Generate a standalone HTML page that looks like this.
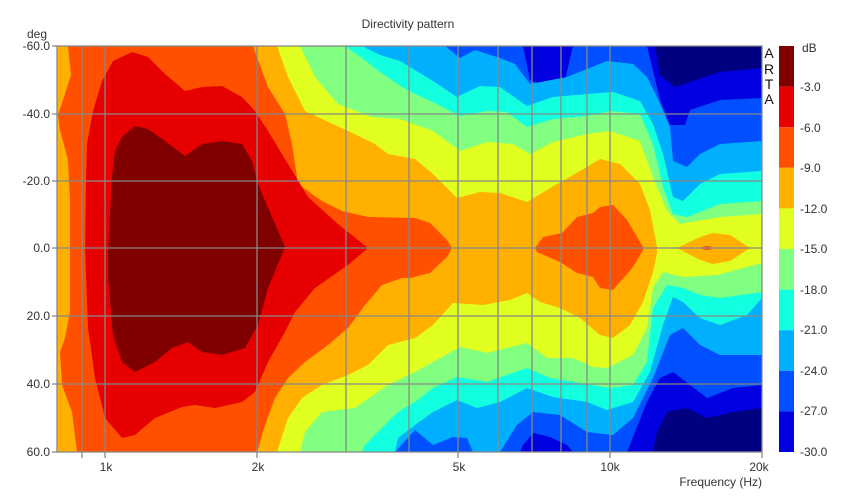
<!DOCTYPE html>
<html><head><meta charset="utf-8"><style>
body{margin:0;background:#fff;}
svg{display:block;font-family:"Liberation Sans",sans-serif;}
</style></head><body>
<svg width="850" height="497" viewBox="0 0 850 497" xmlns="http://www.w3.org/2000/svg">
<rect width="850" height="497" fill="#fff"/>
<defs><clipPath id="c"><rect x="57" y="46" width="705" height="406"/></clipPath></defs>
<g clip-path="url(#c)" stroke-linejoin="round">
<rect x="57" y="46" width="705" height="406" fill="#000080"/>
<path fill="#0000e0" d="M57,46 L655,46 L660,75 L675,87 L690,82 L720,72 L762,68 L762,408 L733,412 L707,418 L687,408 L667,412 L657,432 L653,452 L57,452Z"/>
<path fill="#0050ff" d="M57,46 L523,46 L530,80 L545,86 L565,80 L573,46 L647,46 L660,100 L670,125 L685,125 L690,110 L720,100 L762,98 L762,385 L733,388 L707,398 L690,385 L673,372 L660,378 L647,402 L627,452 L573,452 L567,445 L550,437 L533,433 L523,445 L520,452 L57,452Z"/>
<path fill="#00b0ff" d="M57,46 L445,46 L460,58 L475,50 L497,57 L515,64 L530,84 L567,77 L587,69 L607,61 L633,64 L647,77 L657,97 L670,127 L673,161 L687,167 L700,154 L720,144 L762,141 L762,355 L720,355 L700,345 L683,328 L670,335 L653,378 L633,418 L613,435 L587,432 L560,415 L533,412 L517,425 L500,452 L473,452 L467,438 L453,437 L433,445 L415,430 L395,452 L57,452Z"/>
<path fill="#12ffe0" d="M57,46 L362,46 L380,55 L400,61 L433,81 L457,97 L480,86 L500,87 L527,106 L553,97 L587,94 L613,92 L640,101 L653,124 L663,154 L673,197 L683,201 L700,184 L720,174 L762,171 L762,298 L747,315 L720,325 L700,318 L683,302 L673,297 L663,325 L650,372 L633,402 L607,410 L587,402 L553,397 L527,388 L500,402 L477,408 L457,400 L433,412 L415,425 L398,438 L395,452 L57,452Z"/>
<path fill="#80ff80" d="M57,46 L345,46 L362,58 L380,72 L402,87 L415,94 L433,102 L460,116 L487,111 L507,112 L527,127 L553,119 L587,116 L610,111 L640,114 L653,144 L663,187 L673,214 L687,217 L720,204 L762,201 L762,292 L720,298 L700,295 L683,288 L667,285 L653,308 L647,362 L633,385 L610,388 L580,383 L550,378 L527,368 L487,382 L457,377 L433,388 L415,402 L398,412 L385,425 L365,445 L362,452 L57,452Z"/>
<path fill="#e0ff20" d="M57,46 L300,46 L315,77 L338,104 L372,117 L400,119 L433,131 L460,151 L487,142 L513,144 L530,154 L553,142 L587,134 L610,131 L640,141 L653,177 L667,211 L680,224 L720,217 L762,214 L762,263 L717,275 L683,277 L663,272 L653,288 L647,328 L633,355 L607,368 L593,367 L573,358 L547,358 L527,343 L487,353 L460,347 L433,362 L415,372 L388,385 L355,408 L322,412 L305,432 L300,452 L57,452Z"/>
<path fill="#ffb000" d="M57,46 L277,46 L288,77 L305,111 L348,131 L375,144 L388,154 L415,159 L433,174 L457,198 L480,192 L500,193 L527,202 L557,184 L580,171 L600,159 L620,164 L640,184 L650,210 L657,247 L657,253 L653,272 L643,302 L630,325 L613,338 L600,335 L580,318 L560,308 L540,302 L527,293 L510,300 L483,305 L453,303 L433,325 L415,338 L388,345 L368,365 L348,375 L322,385 L302,398 L288,418 L277,452 L57,452Z"/>
<path fill="#ffb000" d="M677,248 L700,237 L713,233 L730,235 L750,248 L730,261 L713,264 L700,260Z"/>
<ellipse cx="707" cy="248" rx="5" ry="2" fill="#ff5000"/>
<path fill="#ff5000" d="M68,46 L253,46 L268,87 L285,114 L292,144 L298,184 L322,201 L342,211 L368,217 L415,218 L430,223 L447,240 L452,248 L447,257 L430,273 L410,278 L402,278 L382,285 L365,305 L348,328 L328,345 L305,362 L288,378 L275,398 L265,425 L257,452 L77,452 L72,412 L62,385 L60,352 L65,338 L70,312 L70,248 L70,200 L68,160 L60,130 L58,115 L63,100 L71,75Z"/>
<path fill="#ff5000" d="M535,248 L543,237 L562,233 L577,217 L593,213 L600,207 L613,205 L627,220 L643,247 L643,250 L633,267 L613,290 L600,288 L593,277 L577,273 L560,262 L537,252Z"/>
<path fill="#e60000" d="M85,248 L86,180 L87,144 L93,111 L102,81 L113,61 L132,52 L148,57 L165,74 L185,91 L202,87 L222,86 L242,97 L255,111 L268,131 L288,164 L308,197 L338,224 L368,248 L348,265 L315,288 L295,312 L285,332 L268,362 L255,392 L242,402 L215,408 L195,405 L182,407 L155,418 L135,435 L122,438 L105,418 L95,378 L88,328Z"/>
<path fill="#800000" d="M108,251 L112,177 L115,151 L122,137 L135,126 L148,129 L165,141 L185,156 L202,144 L222,141 L242,144 L252,161 L258,184 L272,217 L285,247 L268,288 L258,325 L245,348 L222,355 L202,352 L188,342 L172,348 L155,362 L135,372 L122,362 L113,335 L108,278Z"/>
</g>
<g stroke="#888" stroke-width="1.3" fill="none">
<path d="M82,46V458 M105,46V458 M257,46V458 M346,46V452 M409,46V452 M458,46V458 M498,46V452 M532,46V452 M561,46V452 M587,46V452 M610,46V458"/>
<path d="M52,114H762 M52,181H762 M52,248H762 M52,316H762 M52,384H762"/>
<rect x="57" y="46" width="705" height="406"/>
<path d="M52,46H57 M52,452H57 M762,452V458"/>
</g>
<g font-size="12" fill="#333">
<text x="408" y="28" text-anchor="middle">Directivity pattern</text>
<text x="27" y="38">deg</text>
<g text-anchor="end">
<text x="50" y="50">-60.0</text>
<text x="50" y="118">-40.0</text>
<text x="50" y="185">-20.0</text>
<text x="50" y="252">0.0</text>
<text x="50" y="320">20.0</text>
<text x="50" y="388">40.0</text>
<text x="50" y="456">60.0</text>
</g>
<g text-anchor="middle">
<text x="106" y="471">1k</text>
<text x="258" y="471">2k</text>
<text x="459" y="471">5k</text>
<text x="610" y="471">10k</text>
<text x="759" y="471">20k</text>
</g>
<text x="762" y="486" text-anchor="end">Frequency (Hz)</text>
</g>
<g font-size="14" fill="#111" text-anchor="middle">
<text x="769" y="58">A</text>
<text x="769" y="74">R</text>
<text x="769" y="89">T</text>
<text x="769" y="104">A</text>
</g>
<g>
<rect x="779" y="46" width="15" height="40.6" fill="#800000"/>
<rect x="779" y="86.6" width="15" height="40.6" fill="#e60000"/>
<rect x="779" y="127.2" width="15" height="40.6" fill="#ff5000"/>
<rect x="779" y="167.8" width="15" height="40.6" fill="#ffb000"/>
<rect x="779" y="208.4" width="15" height="40.6" fill="#e0ff20"/>
<rect x="779" y="249" width="15" height="40.6" fill="#80ff80"/>
<rect x="779" y="289.6" width="15" height="40.6" fill="#12ffe0"/>
<rect x="779" y="330.2" width="15" height="40.6" fill="#00b0ff"/>
<rect x="779" y="370.8" width="15" height="40.6" fill="#0050ff"/>
<rect x="779" y="411.4" width="15" height="40.6" fill="#0000e0"/>
</g>
<g font-size="12" fill="#333">
<text x="802" y="52">dB</text>
<text x="800" y="91">-3.0</text>
<text x="800" y="132">-6.0</text>
<text x="800" y="172">-9.0</text>
<text x="800" y="213">-12.0</text>
<text x="800" y="253">-15.0</text>
<text x="800" y="294">-18.0</text>
<text x="800" y="334">-21.0</text>
<text x="800" y="375">-24.0</text>
<text x="800" y="415">-27.0</text>
<text x="800" y="456">-30.0</text>
</g>
</svg>
</body></html>
